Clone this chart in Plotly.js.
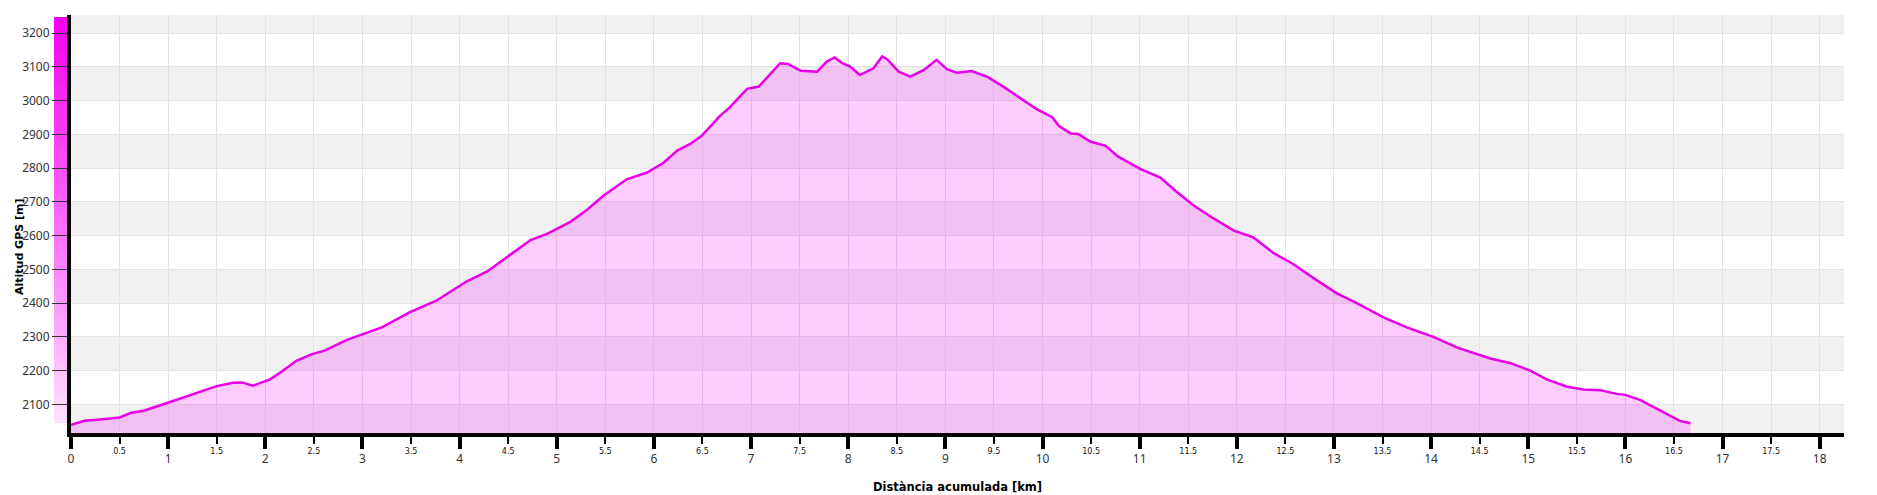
<!DOCTYPE html>
<html>
<head>
<meta charset="utf-8">
<script src="https://cdn.plot.ly/plotly-3.0.1.min.js"></script>
<style>
html,body{margin:0;padding:0;background:#fff;}
#chart{width:1877px;height:495px;}
</style>
</head>
<body>
<div id="chart"></div>
<script>
// Distance along the route [km]
var distanceKm = [
  0.00, 0.14, 0.33, 0.50, 0.62, 0.75, 1.02, 1.17, 1.33, 1.50,
  1.67, 1.76, 1.87, 2.05, 2.17, 2.32, 2.48, 2.61, 2.84, 3.01,
  3.20, 3.49, 3.76, 4.07, 4.28, 4.52, 4.73, 4.90, 5.14, 5.31,
  5.48, 5.72, 5.93, 6.10, 6.24, 6.37, 6.49, 6.68, 6.78, 6.96,
  7.08, 7.30, 7.38, 7.51, 7.68, 7.78, 7.86, 7.93, 8.02, 8.12,
  8.26, 8.35, 8.40, 8.52, 8.64, 8.78, 8.91, 9.02, 9.12, 9.27,
  9.43, 9.60, 9.77, 9.94, 10.10, 10.17, 10.29, 10.37, 10.49, 10.65,
  10.78, 11.01, 11.21, 11.38, 11.55, 11.76, 11.97, 12.17, 12.38, 12.58,
  12.79, 13.03, 13.24, 13.51, 13.75, 14.03, 14.27, 14.61, 14.82, 15.02,
  15.19, 15.40, 15.57, 15.74, 15.91, 16.00, 16.15, 16.39, 16.56, 16.67
];
// GPS altitude [m]
var altitudeM = [
  2039, 2051, 2056, 2061, 2075, 2081, 2107, 2122, 2136, 2154,
  2164, 2165, 2155, 2174, 2197, 2229, 2249, 2259, 2291, 2308,
  2328, 2373, 2407, 2464, 2493, 2543, 2587, 2605, 2641, 2676,
  2718, 2767, 2787, 2816, 2852, 2871, 2895, 2955, 2980, 3035,
  3042, 3111, 3109, 3089, 3086, 3116, 3128, 3113, 3101, 3076,
  3096, 3131, 3123, 3086, 3071, 3091, 3121, 3093, 3083, 3088,
  3071, 3041, 3007, 2975, 2951, 2925, 2903, 2901, 2879, 2866,
  2834, 2797, 2773, 2730, 2691, 2651, 2615, 2595, 2548, 2516,
  2474, 2429, 2399, 2358, 2328, 2299, 2268, 2236, 2222, 2200,
  2174, 2152, 2144, 2142, 2131, 2128, 2113, 2078, 2051, 2044
];
// Axis ticks
var majorTicksKm = [0,1,2,3,4,5,6,7,8,9,10,11,12,13,14,15,16,17,18];
var majorTickLabels = ["0","1","2","3","4","5","6","7","8","9","10","11","12","13","14","15","16","17","18"];
var minorTicksKm = [0.5,1.5,2.5,3.5,4.5,5.5,6.5,7.5,8.5,9.5,10.5,11.5,12.5,13.5,14.5,15.5,16.5,17.5];
var minorTickLabels = ["0.5","1.5","2.5","3.5","4.5","5.5","6.5","7.5","8.5","9.5","10.5","11.5","12.5","13.5","14.5","15.5","16.5","17.5"];
var altitudeTicks = [2100,2200,2300,2400,2500,2600,2700,2800,2900,3000,3100,3200];
var bandStarts = [2000,2200,2400,2600,2800,3000,3200];

// gradient image for the altitude colour bar
function gradientImage(){
  var c = document.createElement('canvas');
  c.width = 4; c.height = 256;
  var g = c.getContext('2d');
  var grd = g.createLinearGradient(0,0,0,256);
  grd.addColorStop(0,'#f500ee');
  grd.addColorStop(0.5,'#fb6afa');
  grd.addColorStop(1,'#ffe2ff');
  g.fillStyle = grd;
  g.fillRect(0,0,4,256);
  return c.toDataURL('image/png');
}

var shapes = bandStarts.map(function(v){
  return {type:'rect', xref:'paper', yref:'y', x0:0, x1:1, y0:v, y1:v+100,
          fillcolor:'#f1f1f1', line:{width:0}, layer:'below'};
});

var traces = [
  {
    x: distanceKm, y: altitudeM, type:'scatter', mode:'lines',
    fill:'tozeroy', fillcolor:'rgba(255,0,255,0.2)',
    line:{color:'#e800e8', width:2.5, shape:'linear'},
    hoverinfo:'x+y', showlegend:false, xaxis:'x', yaxis:'y'
  },
  {
    x: [null], y: [null], type:'scatter', mode:'lines',
    xaxis:'x2', yaxis:'y', showlegend:false, hoverinfo:'skip'
  }
];

var plotW = 1877 - 71 - 33;
var plotH = 495 - 15 - 62;

var layout = {
  width:1877, height:495,
  margin:{l:71, r:33, t:15, b:62, pad:0},
  paper_bgcolor:'#ffffff', plot_bgcolor:'#ffffff',
  showlegend:false,
  xaxis:{
    range:[0,18.25], tickmode:'array', tickvals:majorTicksKm, ticktext:majorTickLabels,
    ticks:'outside', ticklen:12, tickwidth:4, tickcolor:'#000',
    showline:true, linewidth:4, linecolor:'#000',
    showgrid:true, gridcolor:'#e3e3e3', gridwidth:1, zeroline:false,
    tickfont:{family:'Noto Sans, DejaVu Sans, sans-serif', size:12, color:'#333'},
    fixedrange:true
  },
  xaxis2:{
    overlaying:'x', anchor:'y', side:'bottom',
    range:[0,18.25], tickmode:'array', tickvals:minorTicksKm, ticktext:minorTickLabels,
    ticks:'outside', ticklen:10, tickwidth:2, tickcolor:'#000',
    showline:false, showgrid:true, gridcolor:'#e3e3e3', gridwidth:1, zeroline:false,
    tickfont:{family:'DejaVu Sans, sans-serif', size:8, color:'#111'},
    fixedrange:true
  },
  yaxis:{
    range:[2015,3254], tickmode:'array', tickvals:altitudeTicks,
    ticks:'outside', ticklen:15, tickwidth:1, tickcolor:'#333',
    showline:true, linewidth:4, linecolor:'#000',
    showgrid:true, gridcolor:'#e3e3e3', gridwidth:1, zeroline:false,
    tickfont:{family:'Noto Sans, DejaVu Sans, sans-serif', size:12, color:'#333'},
    fixedrange:true
  },
  shapes: shapes,
  images:[{
    source: gradientImage(), xref:'paper', yref:'paper',
    x:(54-71)/plotW, y:(433-17)/plotH, sizex:13/plotW, sizey:406/plotH,
    xanchor:'left', yanchor:'top', sizing:'stretch', layer:'below'
  }],
  annotations:[
    {text:'<b>Altitud GPS [m]</b>', xref:'paper', yref:'paper',
     x:(19-71)/plotW, y:(433-247)/plotH, xanchor:'center', yanchor:'middle',
     textangle:-90, showarrow:false,
     font:{family:'DejaVu Sans, sans-serif', size:11, color:'#000'}},
    {text:'<b>Distància acumulada [km]</b>', xref:'paper', yref:'paper',
     x:0.5, y:(433-487)/plotH, xanchor:'center', yanchor:'middle',
     showarrow:false,
     font:{family:'DejaVu Sans, sans-serif', size:11.5, color:'#000'}}
  ]
};

Plotly.newPlot('chart', traces, layout, {displayModeBar:false, staticPlot:true});
</script>
</body>
</html>
